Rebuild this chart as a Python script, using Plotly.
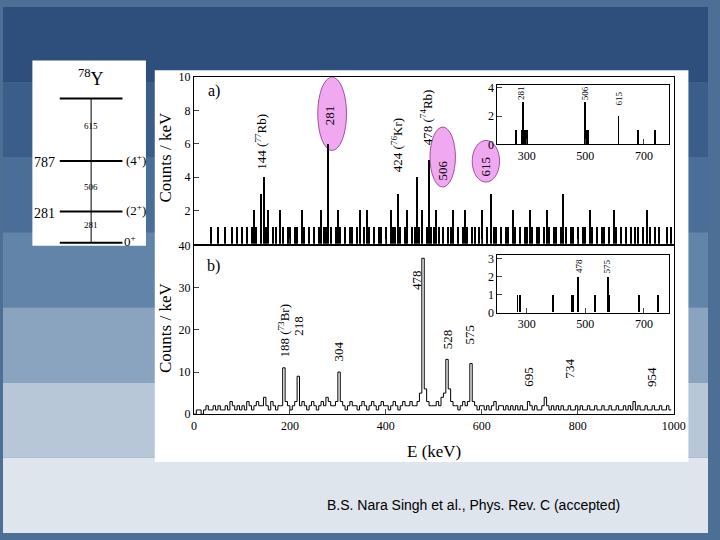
import plotly.graph_objects as go

W, H = 720, 540
def px(x): return x / W
def py(y): return 1 - y / H

# ---------------- data ----------------
bin_width_a = 5
counts_a = [
 0,0,0,0,0,0,0,1,0,0, 1,0,0,1,0,0,1,0,1,0,
 1,0,1,0,1,2,1,0,3,4, 1,2,0,1,1,0,2,1,0,1,
 1,0,1,1,0,2,1,0,1,0, 1,0,1,2,1,1,6,1,0,1,
 2,1,0,1,0,1,1,0,1,2, 0,1,2,1,0,1,0,1,1,0,
 1,0,2,1,1,3,1,0,1,2, 0,1,1,4,1,2,0,1,5,1,
 1,2,1,0,1,0,1,1,2,0, 1,0,1,2,1,0,1,1,0,1,
 2,0,1,0,3,1,1,0,1,0, 1,1,0,2,1,0,1,0,1,1,
 2,1,0,1,1,0,1,2,1,0, 1,1,0,1,3,1,0,1,1,0,
 1,0,1,1,0,2,1,0,1,0, 1,1,0,1,0,2,1,0,1,0,
 1,0,1,0,1,1,0,1,0,2, 1,0,1,0,1,0,0,1,0,1,
]
bin_width_b = 5
counts_b = [
 0,1,1,0,1,2,1,1,2,1, 2,1,1,2,1,3,2,1,2,1,
 2,1,3,2,1,2,3,2,2,4, 2,1,3,2,1,2,2,11,3,2,
 1,2,3,9,2,3,2,1,2,3, 2,1,2,3,2,4,3,2,2,3,
 10,3,2,1,2,3,2,2,1,2, 3,2,1,2,3,2,1,2,3,2,
 2,1,2,3,2,1,2,3,2,2, 3,2,2,3,5,37,6,3,2,2,
 2,3,2,4,5,13,6,3,2,2, 1,2,3,2,3,12,3,2,1,2,
 2,1,2,1,2,3,1,2,2,1, 2,1,2,1,2,1,2,1,1,3,
 2,1,2,1,1,2,4,2,1,2, 1,2,1,2,1,1,2,1,1,2,
 1,2,1,1,2,1,1,2,1,1, 2,1,1,2,1,1,2,1,1,2,
 1,2,1,3,1,2,1,1,2,1, 1,2,1,1,2,1,1,2,1,1,
]
inset_a_E = [265, 285, 290, 293, 296, 302, 500, 505, 510, 615, 680, 740]
inset_a_c = [1, 1, 3, 1, 1, 1, 3, 1, 1, 2, 1, 1]
inset_b_E = [270, 278, 390, 455, 460, 478, 535, 578, 582, 685, 750]
inset_b_c = [1, 1, 1, 1, 1, 2, 1, 2, 1, 1, 1]

energies_a = [i * bin_width_a for i in range(len(counts_a))]
energies_b = [i * bin_width_b for i in range(len(counts_b))]

fig = go.Figure()
fig.add_trace(go.Bar(x=energies_a, y=counts_a, width=2.2, marker_color="black",
                     marker_line_width=0, xaxis="x", yaxis="y"))
fig.add_trace(go.Scatter(x=energies_b, y=counts_b, mode="lines", line=dict(color="black", width=1, shape="hv"),
                         xaxis="x2", yaxis="y2"))
fig.add_trace(go.Bar(x=inset_a_E, y=inset_a_c, width=3, marker_color="black", marker_line_width=0,
                     xaxis="x3", yaxis="y3"))
fig.add_trace(go.Bar(x=inset_b_E, y=inset_b_c, width=3, marker_color="black", marker_line_width=0,
                     xaxis="x4", yaxis="y4"))

ser = dict(family="Liberation Serif", color="black")
ax = dict(showgrid=False, zeroline=False, ticks="inside", showline=True, linecolor="black", mirror=True,
          tickfont=dict(size=12, **ser))
xdom = [px(195), px(685)]
fig.update_layout(
    width=W, height=H, autosize=False, margin=dict(l=0, r=0, t=0, b=0), showlegend=False,
    paper_bgcolor="#4d6f96", plot_bgcolor="white", bargap=0,
    xaxis=dict(domain=xdom, range=[0, 1000], anchor="y", showticklabels=False, **ax),
    yaxis=dict(domain=[py(243), py(72)], range=[0, 10], tickvals=[0, 2, 4, 6, 8, 10],
               ticktext=["", "2", "4", "6", "8", "10"], anchor="x", **ax),
    xaxis2=dict(domain=xdom, range=[0, 1000], anchor="y2", tickvals=[0, 200, 400, 600, 800, 1000], **ax),
    yaxis2=dict(domain=[py(418), py(245)], range=[0, 40], tickvals=[0, 10, 20, 30, 40], anchor="x2", **ax),
    xaxis3=dict(domain=[px(505), px(680)], range=[200, 785], anchor="y3", tickvals=[300, 500, 700], **ax),
    yaxis3=dict(domain=[py(141), py(80)], range=[0, 4.2], tickvals=[0, 2, 4], anchor="x3", **ax),
    xaxis4=dict(domain=[px(505), px(680)], range=[200, 785], anchor="y4", tickvals=[300, 500, 700], **ax),
    yaxis4=dict(domain=[py(314), py(255)], range=[0, 3.2], tickvals=[0, 1, 2, 3], anchor="x4", **ax),
)

shapes = []
cols = ["#2e4f7c", "#3b5d89", "#4b6e98", "#6384a9", "#8aa3bf", "#b8c7d8", "#dfe5ec"]
for i, c in enumerate(cols):
    shapes.append(dict(type="rect", xref="paper", yref="paper", x0=0, x1=1,
                       y0=1 - (i + 1) / len(cols), y1=1 - i / len(cols), fillcolor=c, line_width=0, layer="below"))
shapes.append(dict(type="rect", xref="paper", yref="paper", x0=px(155), x1=px(700), y0=py(467), y1=py(65),
                   fillcolor="white", line_width=0, layer="below"))
shapes.append(dict(type="rect", xref="paper", yref="paper", x0=px(30), x1=px(146), y0=py(245), y1=py(55),
                   fillcolor="white", line_width=0, layer="below"))
for yl in [94, 158, 210, 242]:
    shapes.append(dict(type="line", xref="paper", yref="paper", x0=px(58), x1=px(122), y0=py(yl), y1=py(yl),
                       line=dict(color="black", width=2)))
shapes.append(dict(type="line", xref="paper", yref="paper", x0=px(90), x1=px(90), y0=py(242), y1=py(94),
                   line=dict(color="black", width=1)))
for x0, x1, y0, y1 in [(258, 318, 5.6, 10.0), (492, 545, 3.4, 7.0), (580, 637, 3.7, 6.2)]:
    shapes.append(dict(type="circle", xref="x", yref="y", x0=x0, x1=x1, y0=y0, y1=y1,
                       fillcolor="#f0a8f0", line=dict(color="#a050a0", width=1), layer="below"))
fig.update_layout(shapes=shapes)

ann = []
def t(x, y, s, size=12, angle=0, ref=("paper", "paper"), font=ser, xa="center", ya="middle"):
    ann.append(dict(x=x, y=y, xref=ref[0], yref=ref[1], text=s, showarrow=False, textangle=angle,
                    font=dict(size=size, **font), xanchor=xa, yanchor=ya))

t(px(90), py(72), "<sup>78</sup>Y", 18)
t(px(90), py(122), "615", 9)
t(px(90), py(185), "506", 9)
t(px(90), py(224), "281", 9)
t(px(42), py(160), "787", 14)
t(px(42), py(212), "281", 14)
t(px(136), py(157), "(4<sup>+</sup>)", 13)
t(px(136), py(208), "(2<sup>+</sup>)", 13)
t(px(130), py(240), "0<sup>+</sup>", 13)
t(px(166), py(155), "Counts / keV", 17, -90)
t(px(166), py(330), "Counts / keV", 17, -90)
t(px(440), py(456), "E (keV)", 17)
t(px(215), py(86), "a)", 16)
t(px(215), py(266), "b)", 16)
for e, y, s in [(139, 4.3, "144 (<sup>77</sup>Rb)"), (282, 7.0, "281"), (422, 4.2, "424 (<sup>76</sup>Kr)"),
                (484, 5.8, "478 (<sup>74</sup>Rb)"), (518, 3.7, "506"), (608, 3.9, "615")]:
    t(e, y, s, 13, -90, ("x", "y"), ya="bottom")
for e, y, s in [(188, 13, "188 (<sup>73</sup>Br)"), (218, 18, "218"), (302, 12, "304"), (465, 29, "478"),
                (530, 15, "528"), (575, 16, "575"), (698, 6, "695"), (782, 8, "734"), (955, 6, "954")]:
    t(e, y, s, 13, -90, ("x2", "y2"), ya="bottom")
for e, y, s in [(281, 3.0, "281"), (500, 3.0, "506"), (615, 2.6, "615")]:
    t(e, y, s, 9, -90, ("x3", "y3"), ya="bottom")
for e, y, s in [(478, 2.1, "478"), (575, 2.1, "575")]:
    t(e, y, s, 9, -90, ("x4", "y4"), ya="bottom")
t(px(480), py(511), "B.S. Nara Singh et al., Phys. Rev. C (accepted)", 14,
  font=dict(family="Liberation Sans", color="black"))
fig.update_layout(annotations=ann)
fig.write_html("out.html", config={"displayModeBar": False},
               post_script="document.body.style.margin='0';document.body.style.overflow='hidden';")
